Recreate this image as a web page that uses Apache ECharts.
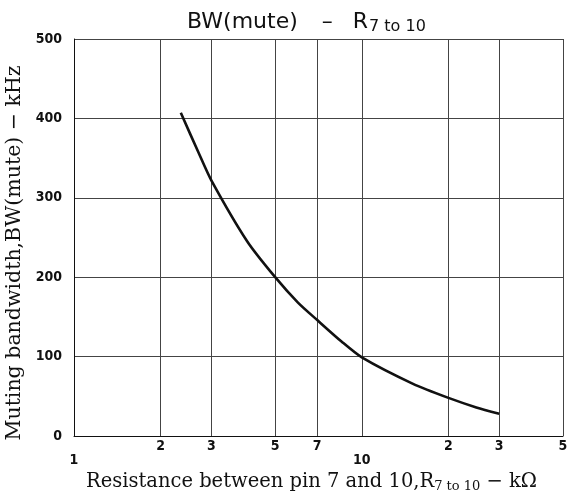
<!DOCTYPE html>
<html>
<head>
<meta charset="utf-8">
<script src="https://cdn.jsdelivr.net/npm/echarts@6/dist/echarts.min.js"></script>
<style>
  html, body { margin: 0; background: #fff; }
  #chart { width: 568px; height: 499px; }
</style>
</head>
<body>
<div id="chart"></div>
<script>
// values
const resistance = [2.35, 2.7, 3, 4, 5, 6, 7, 8.5, 10, 15, 20, 25, 30]
const bandwidth = [407, 358, 322, 245, 200, 168, 146, 119, 99, 66, 48, 36, 28]

const xTicks = [1, 2, 3, 5, 7, 10, 20, 30, 50]
const xTickText = ['1', '2', '3', '5', '7', '10', '2', '3', '5']

const sans = '"DejaVu Sans Condensed", "DejaVu Sans", sans-serif'
const serif = '"DejaVu Serif", serif'

const chart = echarts.init(document.getElementById('chart'))

chart.setOption({
  animation: false,
  backgroundColor: '#fff',
  title: {
    text: '{a|BW(mute)}{g|–}{a|R}{s|7 to 10}',
    left: 182,
    top: 5,
    textStyle: {
      rich: {
        a: { fontFamily: '"DejaVu Sans", sans-serif', fontSize: 22, fontWeight: 'normal', color: '#111' },
        g: { fontFamily: '"DejaVu Sans", sans-serif', fontSize: 22, fontWeight: 'normal', color: '#111', padding: [0, 20, 0, 24] },
        s: { fontFamily: '"DejaVu Sans", sans-serif', fontSize: 16, fontWeight: 'normal', color: '#111', padding: [9, 0, 0, 1] },
      },
    },
  },
  grid: { left: 74, right: 5, top: 39, bottom: 63, outerBoundsMode: 'none' },
  xAxis: {
    type: 'log',
    min: 1,
    max: 50,
    logBase: 10,
    name: '{a|Resistance between pin 7 and 10,R}{s|7 to 10}{a| − kΩ}',
    nameLocation: 'middle',
    nameGap: 33,
    nameTextStyle: {
      padding: [0, 14, 0, 0],
      rich: {
        a: { fontFamily: serif, fontSize: 19.5, color: '#111' },
        s: { fontFamily: serif, fontSize: 13, color: '#111', padding: [9, 0, 0, 0] },
      },
    },
    axisLine: { lineStyle: { color: '#111', width: 1 } },
    axisTick: { show: false, customValues: xTicks },
    axisLabel: {
      customValues: xTicks,
      margin: 3,
      fontFamily: sans,
      fontSize: 14,
      fontWeight: 'bold',
      color: '#111',
      formatter: (v) => {
        const i = xTicks.findIndex((t) => Math.abs(t - v) < 1e-6)
        const t = i >= 0 ? xTickText[i] : ''
        return v === 1 || v === 10 ? '\n' + t : t
      },
    },
    splitLine: { show: true, lineStyle: { color: '#444', width: 1 } },
  },
  yAxis: {
    type: 'value',
    min: 0,
    max: 500,
    interval: 100,
    name: 'Muting bandwidth,BW(mute) − kHz',
    nameLocation: 'middle',
    nameRotate: 90,
    nameGap: 45,
    nameTextStyle: { fontFamily: serif, fontSize: 20.5, color: '#111', padding: [0, 31, 0, 0] },
    axisLine: { show: true, lineStyle: { color: '#111', width: 1 } },
    axisTick: { show: false },
    axisLabel: { margin: 12, fontFamily: sans, fontSize: 14, fontWeight: 'bold', color: '#111' },
    splitLine: { show: true, lineStyle: { color: '#444', width: 1 } },
  },
  series: [
    {
      type: 'line',
      data: resistance.map((r, i) => [r, bandwidth[i]]),
      smooth: 0.25,
      showSymbol: false,
      lineStyle: { color: '#111', width: 2.6 },
    },
  ],
})
</script>
</body>
</html>
